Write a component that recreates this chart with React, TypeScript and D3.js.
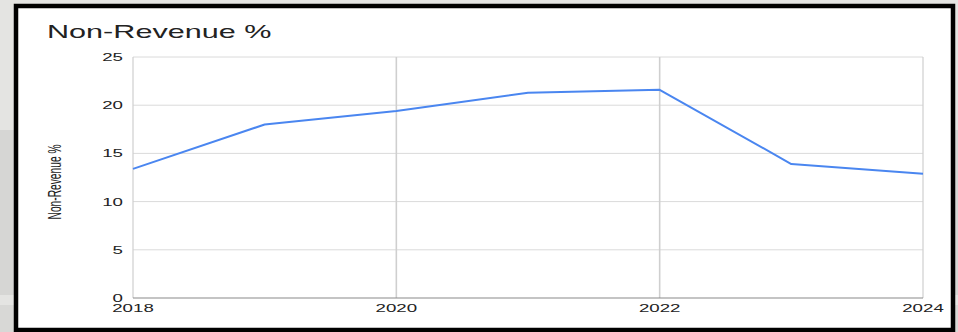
import React from "react";
import * as d3 from "d3";

// Non-revenue share by year
const years: number[] = [2018, 2019, 2020, 2021, 2022, 2023, 2024];
const nonRevenuePct: number[] = [13.4, 18.0, 19.4, 21.3, 21.6, 13.9, 12.9];

const yTicks: number[] = [0, 5, 10, 15, 20, 25];
const xTicks: number[] = [2018, 2020, 2022, 2024];

const W = 958;
const H = 332;
const plot = { left: 133, right: 923, top: 57, bottom: 298 };
const SX = 1.7; // horizontal stretch of the glyphs
const FONT = "'Liberation Sans', Arial, Helvetica, sans-serif";

export default function App() {
  const x = d3.scaleLinear().domain([2018, 2024]).range([plot.left, plot.right]);
  const y = d3.scaleLinear().domain([0, 25]).range([plot.bottom, plot.top]);

  const line = d3
    .line<number>()
    .x((_, i) => x(years[i]))
    .y((d) => y(d));

  const stretched = (tx: number, ty: number) => `translate(${tx},${ty}) scale(${SX},1)`;

  return (
    <svg
      width={W}
      height={H}
      style={{ position: "absolute", left: 0, top: 0, display: "block" }}
    >
      {/* surrounding backdrop */}
      <rect x={0} y={0} width={W} height={H} fill="#e4e4e2" />
      <rect x={0} y={130} width={16} height={165} fill="#d6d6d4" />
      <rect x={0} y={305} width={16} height={27} fill="#d8d8d6" />
      <rect x={952} y={130} width={6} height={165} fill="#d6d6d4" />
      <rect x={952} y={305} width={6} height={27} fill="#d8d8d6" />

      {/* framed card */}
      <rect x={16} y={6} width={937} height={324} fill="#ffffff" stroke="#000" strokeWidth={4.5} />

      {/* title */}
      <text
        transform={stretched(47, 38)}
        fontFamily={FONT}
        fontSize={18}
        fill="#222"
      >
        Non-Revenue %
      </text>

      {/* horizontal gridlines */}
      {yTicks
        .filter((t) => t > 0)
        .map((t) => (
          <line
            key={`h${t}`}
            x1={plot.left}
            x2={plot.right}
            y1={y(t)}
            y2={y(t)}
            stroke="#dadada"
            strokeWidth={1}
          />
        ))}

      {/* vertical gridlines */}
      {xTicks.map((t) => (
        <line
          key={`v${t}`}
          x1={x(t)}
          x2={x(t)}
          y1={plot.top}
          y2={plot.bottom}
          stroke="#cfcfcf"
          strokeWidth={t === 2018 || t === 2024 ? 1.2 : 1.6}
        />
      ))}

      {/* baseline */}
      <line
        x1={plot.left}
        x2={plot.right}
        y1={y(0)}
        y2={y(0)}
        stroke="#8a8a8a"
        strokeWidth={1.2}
      />

      {/* series */}
      <path
        d={line(nonRevenuePct) ?? ""}
        fill="none"
        stroke="#4a86f0"
        strokeWidth={2}
        strokeLinejoin="round"
      />

      {/* y tick labels */}
      {yTicks.map((t) => (
        <text
          key={`yl${t}`}
          transform={stretched(123, y(t) + 4)}
          textAnchor="end"
          fontFamily={FONT}
          fontSize={11}
          fill="#222"
        >
          {t}
        </text>
      ))}

      {/* x tick labels */}
      {xTicks.map((t) => (
        <text
          key={`xl${t}`}
          transform={stretched(x(t), 312)}
          textAnchor="middle"
          fontFamily={FONT}
          fontSize={11}
          fill="#222"
        >
          {t}
        </text>
      ))}

      {/* y axis title */}
      <text
        transform={`translate(61,182) scale(${SX},1) rotate(-90)`}
        textAnchor="middle"
        fontFamily={FONT}
        fontSize={10.5}
        textLength={75}
        lengthAdjust="spacingAndGlyphs"
        fill="#222"
      >
        Non-Revenue %
      </text>
    </svg>
  );
}
